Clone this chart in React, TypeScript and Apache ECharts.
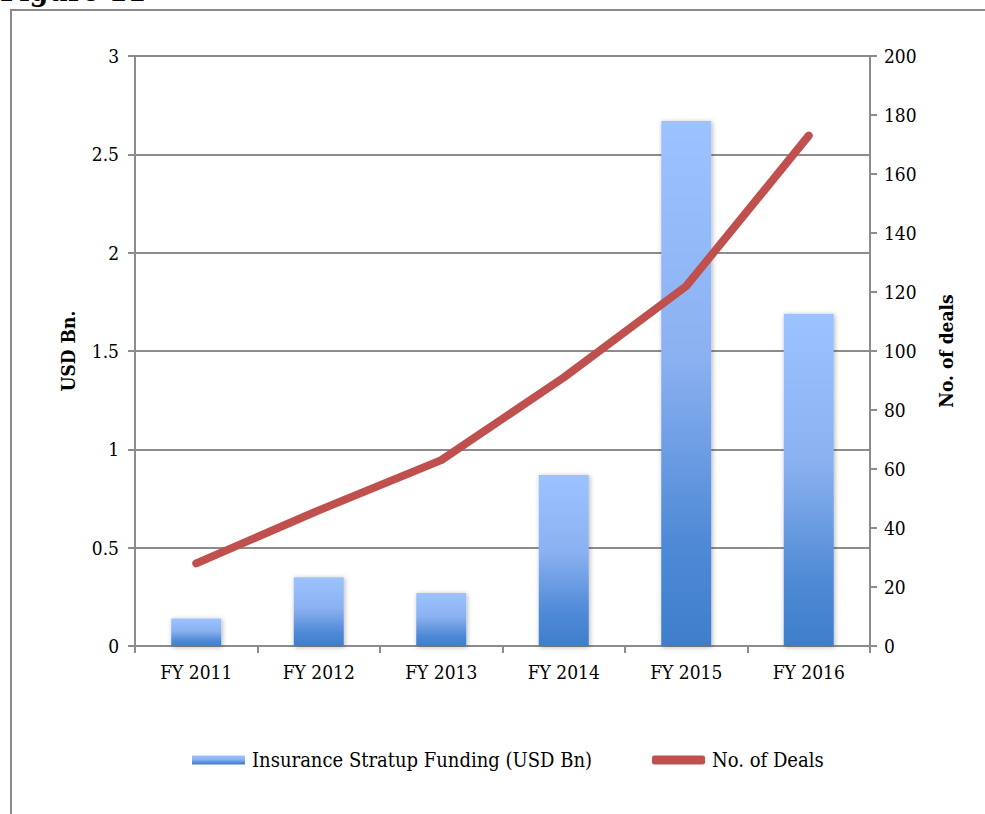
import React, { useEffect, useRef } from "react";
import * as echarts from "echarts";

const categories = ["FY 2011", "FY 2012", "FY 2013", "FY 2014", "FY 2015", "FY 2016"];
const funding = [0.14, 0.35, 0.27, 0.87, 2.67, 1.69];
const deals = [28, 46, 63, 91, 122, 173];
const fundingName = "Insurance Stratup Funding (USD Bn)";
const dealsName = "No. of Deals";

const FONT = "'DejaVu Serif Condensed', 'DejaVu Serif', 'Liberation Serif', serif";

export default function App() {
  const ref = useRef<HTMLDivElement>(null);
  useEffect(() => {
    if (!ref.current) return;
    const chart = echarts.init(ref.current, undefined, { renderer: "svg" });
    const axisGray = "#8c8c8c";
    chart.setOption({
      animation: false,
      backgroundColor: "#ffffff",
      textStyle: { fontFamily: FONT },
      graphic: [
        {
          type: "text",
          left: 0,
          top: -25,
          style: { text: "Figure 11", font: "bold 30px " + FONT, fill: "#000" },
        },
        {
          type: "rect",
          shape: { x: 11, y: 10, width: 1000, height: 900 },
          style: { fill: "none", stroke: "#8a8a8a", lineWidth: 2 },
          z: -1,
        },
      ],
      grid: { left: 135, right: 115, top: 56, bottom: 168, containLabel: false },
      legend: {
        bottom: 39,
        left: 187,
        itemGap: 60,
        itemWidth: 53,
        itemHeight: 9,
        textStyle: { fontFamily: FONT, fontSize: 20, color: "#000", padding: [0, 0, 0, 2] },
        data: [
          { name: fundingName, icon: "rect" },
          { name: dealsName, icon: "roundRect", itemStyle: { color: "#c0504d" } },
        ],
      },
      xAxis: {
        type: "category",
        data: categories,
        axisLine: { lineStyle: { color: axisGray, width: 2 } },
        axisTick: { show: true, length: 7, lineStyle: { color: axisGray, width: 2 } },
        axisLabel: { fontFamily: FONT, fontSize: 19, color: "#000", margin: 16 },
      },
      yAxis: [
        {
          type: "value",
          min: 0,
          max: 3,
          interval: 0.5,
          name: "USD Bn.",
          nameLocation: "middle",
          nameGap: 58,
          nameRotate: 90,
          nameTextStyle: { fontFamily: FONT, fontSize: 19, fontWeight: "bold", color: "#000" },
          axisLine: { show: true, lineStyle: { color: axisGray, width: 2 } },
          axisTick: { show: true, length: 7, lineStyle: { color: axisGray, width: 2 } },
          axisLabel: { fontFamily: FONT, fontSize: 19, color: "#000", margin: 16 },
          splitLine: { show: true, lineStyle: { color: axisGray, width: 2 } },
        },
        {
          type: "value",
          min: 0,
          max: 200,
          interval: 20,
          name: "No. of deals",
          nameLocation: "middle",
          nameGap: 66,
          nameRotate: 90,
          nameTextStyle: { fontFamily: FONT, fontSize: 19, fontWeight: "bold", color: "#000" },
          axisLine: { show: true, lineStyle: { color: axisGray, width: 2 } },
          axisTick: { show: true, length: 7, lineStyle: { color: axisGray, width: 2 } },
          axisLabel: { fontFamily: FONT, fontSize: 19, color: "#000", margin: 14 },
          splitLine: { show: false },
        },
      ],
      series: [
        {
          name: fundingName,
          type: "bar",
          yAxisIndex: 0,
          data: funding,
          barWidth: 50,
          itemStyle: {
            color: new echarts.graphic.LinearGradient(0, 0, 0, 1, [
              { offset: 0, color: "#9cc3ff" },
              { offset: 0.45, color: "#8bb1f1" },
              { offset: 0.8, color: "#4f8ad6" },
              { offset: 1, color: "#3e7ecb" },
            ]),
            shadowBlur: 5,
            shadowColor: "rgba(0,0,0,0.3)",
            shadowOffsetX: 1,
            shadowOffsetY: 1,
          },
        },
        {
          name: dealsName,
          type: "line",
          yAxisIndex: 1,
          data: deals,
          symbol: "none",
          lineStyle: { color: "#c0504d", width: 8, cap: "round", join: "round" },
          itemStyle: { color: "#c0504d" },
          z: 5,
        },
      ],
    });
    return () => chart.dispose();
  }, []);
  return (
    <div
      ref={ref}
      style={{ position: "absolute", left: 0, top: 0, width: 985, height: 814 }}
    />
  );
}
